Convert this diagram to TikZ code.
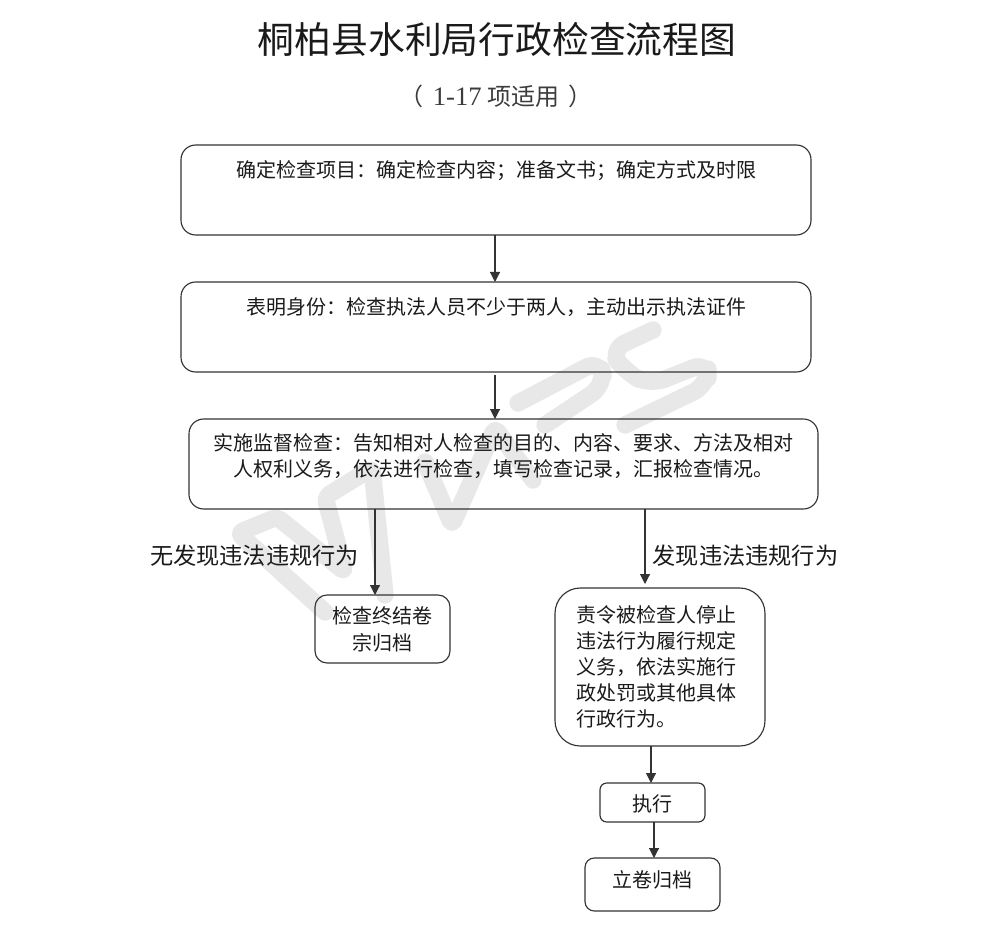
\documentclass[tikz,border=0pt]{standalone}
\usepackage{fontspec}
\setmainfont{Noto Sans CJK SC}
\newfontfamily\latinserif{Liberation Serif}
\usetikzlibrary{arrows.meta,calc}
\definecolor{inkc}{HTML}{1A1A1A}
\definecolor{linec}{HTML}{333333}
\definecolor{markc}{HTML}{E8E8E8}
\tikzset{
  flowbox/.style={draw=linec,line width=0.85pt,rounded corners=#1,outer sep=0pt,inner sep=0pt,align=center,text=inkc,font=\fontsize{15}{19.5}\selectfont},
  flowarrow/.style={draw=linec,line width=0.85pt,-{Triangle[width=7.5pt,length=7.5pt]}},
  sidelabel/.style={text=inkc,inner sep=0pt,font=\fontsize{17.4}{20}\selectfont},
  markline/.style={draw=markc,line width=13pt,line join=round,line cap=round,rounded corners=4pt}
}
\begin{document}
\begin{tikzpicture}[x=0.75pt,y=-0.75pt]
\useasboundingbox (0,0) rectangle (992,934);
% pale background mark
\draw[markline] (325,612) -- (238,533) -- (277,517) -- (345,572) -- (325,497) -- (372,468) -- (385,595);
\draw[markline] (425,462) -- (452,525) -- (495,428) -- (533,480);
\draw[markline,rounded corners=12pt] (518,403) -- (600,360) -- (605,385) -- (545,425);
\draw[markline,rounded corners=12pt] (653,330) -- (610,350) -- (625,372) -- (650,385) -- (708,362) -- (708,385) -- (625,425);
% title
\node[inner sep=0pt,text=inkc,font=\fontsize{27.6}{30}\selectfont] (title) at (497,39) {桐柏县水利局行政检查流程图};
\node[inner sep=0pt,text=inkc!85,font=\fontsize{18}{20}\selectfont] (subtitle) at (496,96) {（\kern7pt{\latinserif\fontsize{20}{20}\selectfont 1-17} 项适用\kern7pt）};
% boxes
\node[flowbox=11pt,minimum width=472.5pt,minimum height=67.5pt] (a) at (496,190) {确定检查项目：确定检查内容；准备文书；确定方式及时限\\[12pt]\mbox{}};
\node[flowbox=11pt,minimum width=472.5pt,minimum height=67.5pt] (b) at (496,327) {表明身份：检查执法人员不少于两人，主动出示执法证件\\[12pt]\mbox{}};
\node[flowbox=11pt,minimum width=471.75pt,minimum height=67.5pt] (c) at (503.5,464) {实施监督检查：告知相对人检查的目的、内容、要求、方法及相对\\人权利义务，依法进行检查，填写检查记录，汇报检查情况。\\[-6pt]\mbox{}};
\node[flowbox=9pt,minimum width=101.25pt,minimum height=51pt] (d) at (382.5,629) {检查终结卷\\[0.8pt]宗归档\\[-19pt]\mbox{}};
\node[flowbox=19pt,minimum width=157.5pt,minimum height=118.5pt,align=left] (e) at (660,667) {责令被检查人停止\hbox{\kern6pt}\\违法行为履行规定\\义务，依法实施行\\政处罚或其他具体\\行政行为。};
\node[flowbox=5pt,minimum width=78.75pt,minimum height=29.25pt] (f) at (652.5,802.5) {执行\\[-20.5pt]\mbox{}};
\node[flowbox=7pt,minimum width=101.25pt,minimum height=39.75pt] (g) at (652.5,884.5) {立卷归档\\[-12pt]\mbox{}};
% side labels
\node[sidelabel] (ln) at (254.5,556) {无发现违法违规行为};
\node[sidelabel] (ly) at (745.5,556) {发现违法违规行为};
% connector columns
\coordinate (xa) at (495,0);
\coordinate (xd) at (375,0);
\coordinate (xe) at (645,0);
\coordinate (xf) at (651,0);
\coordinate (xg) at (654,0);
% connectors
\draw[flowarrow] (xa |- a.south) -- (xa |- b.north);
\draw[flowarrow,shorten <=2pt] (xa |- b.south) -- (xa |- c.north);
\draw[flowarrow] (xd |- c.south) -- (xd |- d.north);
\draw[flowarrow,shorten >=3pt] (xe |- c.south) -- (xe |- e.north);
\draw[flowarrow] (xf |- e.south) -- (xf |- f.north);
\draw[flowarrow] (xg |- f.south) -- (xg |- g.north);
\end{tikzpicture}
\end{document}
